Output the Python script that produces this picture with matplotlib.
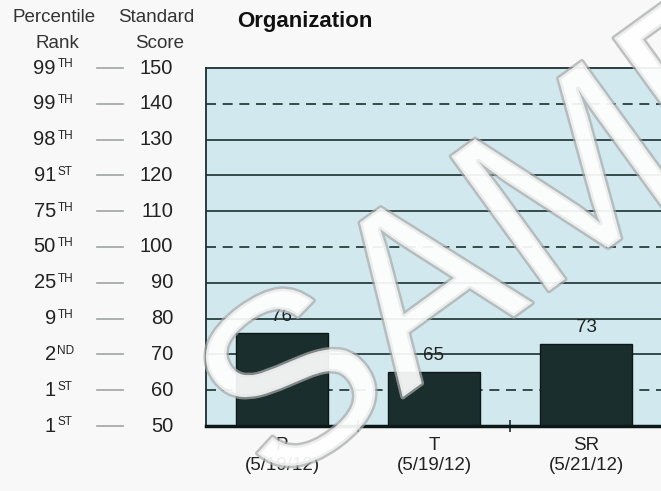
import numpy as np
import matplotlib
matplotlib.use("Agg")
import matplotlib.pyplot as plt
import matplotlib.patheffects as pe
from matplotlib.transforms import blended_transform_factory

plt.rcParams['font.family'] = ['Liberation Sans', 'DejaVu Sans']

# data
categories = ["P\n(5/19/12)", "T\n(5/19/12)", "SR\n(5/21/12)"]
scores = [76, 65, 73]
score_ticks = [150, 140, 130, 120, 110, 100, 90, 80, 70, 60, 50]
pct_num = ["99", "99", "98", "91", "75", "50", "25", "9", "2", "1", "1"]
pct_sup = ["TH", "TH", "TH", "ST", "TH", "TH", "TH", "TH", "ND", "ST", "ST"]
dashed_levels = [140, 100, 60]

W, H = 661, 491
fig = plt.figure(figsize=(W / 100, H / 100), dpi=100, facecolor="#f7f8f7")
ax = fig.add_axes([206 / W, 1 - 426 / H, 456 / W, 358 / H])
ax.set_facecolor("#d1e9ee")

dark = "#1b2f2f"
for lv in score_ticks[1:-1]:
    if lv in dashed_levels:
        ax.axhline(lv, color=dark, lw=1.2, ls=(0, (6, 4)), zorder=1)
    else:
        ax.axhline(lv, color=dark, lw=1.2, zorder=1)

x = np.arange(len(categories))
ax.bar(x, scores, width=0.6, bottom=0, color="#1b2e2e", edgecolor="#0c1818",
       lw=1, zorder=2)
for xi, s in zip(x, scores):
    ax.text(xi, s + 2.2, str(s), ha="center", va="bottom", fontsize=13.5,
            color="#222222")

ax.set_ylim(50, 150)
ax.set_xlim(-0.5, 2.5)
ax.set_yticks([])
ax.set_xticks([0.5, 1.5], minor=False)
ax.set_xticklabels([])
ax.tick_params(axis="x", direction="inout", length=8, width=1.2, color=dark)
for xi, c in zip(x, categories):
    ax.text(xi, -0.03, c, transform=blended_transform_factory(ax.transData, ax.transAxes),
            ha="center", va="top", fontsize=13.5, color="#222222", linespacing=1.25)
for side in ["left", "top"]:
    ax.spines[side].set_color(dark)
    ax.spines[side].set_linewidth(1.3)
ax.spines["bottom"].set_color("#0c1818")
ax.spines["bottom"].set_linewidth(2.5)
ax.spines["right"].set_visible(False)

# title
fig.text(237 / W, 1 - 22 / H, "Organization", fontsize=16, fontweight="bold",
         ha="left", va="center", color="#111111")

# left scale
fig.text(54 / W, 1 - 18 / H, "Percentile", fontsize=13.5, ha="center", va="center", color="#333333")
fig.text(57 / W, 1 - 43 / H, "Rank", fontsize=13.5, ha="center", va="center", color="#333333")
fig.text(156 / W, 1 - 18 / H, "Standard", fontsize=13.5, ha="center", va="center", color="#333333")
fig.text(160 / W, 1 - 43 / H, "Score", fontsize=13.5, ha="center", va="center", color="#333333")

tr = blended_transform_factory(fig.transFigure, ax.transData)
for sc, n, sp in zip(score_ticks, pct_num, pct_sup):
    ax.text(173 / W, sc, str(sc), transform=tr, ha="right", va="center",
            fontsize=14.5, color="#222222", clip_on=False)
    ax.text(56 / W, sc, n, transform=tr, ha="right", va="center",
            fontsize=14.5, color="#222222", clip_on=False)
    ax.text(57.5 / W, sc + 1.0, sp, transform=tr, ha="left", va="center",
            fontsize=8.5, color="#222222", clip_on=False)
    ax.plot([97 / W, 123 / W], [sc, sc], transform=tr, color="#a0a4a4",
            lw=1.2, clip_on=False)

# watermark
fig.text(272 / W, 1 - 492 / H, "SAMPLE", fontsize=174, rotation=36,
         rotation_mode="anchor", ha="left", va="baseline", color="white",
         alpha=0.72, zorder=20,
         path_effects=[pe.withStroke(linewidth=3.5, foreground="#a9abab")])

fig.savefig("out.png", dpi=100, facecolor=fig.get_facecolor())
